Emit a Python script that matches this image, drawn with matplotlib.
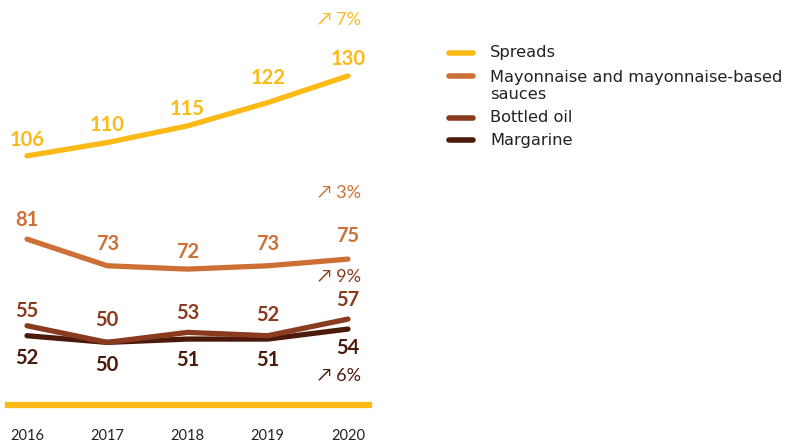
import matplotlib.pyplot as plt
from matplotlib.lines import Line2D

plt.rcParams['font.family'] = ['Lato', 'DejaVu Sans']

years = [2016, 2017, 2018, 2019, 2020]
spreads = [106, 110, 115, 122, 130]
mayo = [81, 73, 72, 73, 75]
oil = [55, 50, 53, 52, 57]
margarine = [52, 50, 51, 51, 54]

names = ['Spreads', 'Mayonnaise and mayonnaise-based\nsauces', 'Bottled oil', 'Margarine']
colors = ['#FDBA17', '#CD7036', '#8A3B1F', '#4B1A0B']
growth = ['7%', '3%', '9%', '6%']

fig = plt.figure(figsize=(7.92, 4.45), dpi=100)
ax = fig.add_axes([8 / 792, 40 / 445, 361 / 792, 405 / 445])

series = [spreads, mayo, oil, margarine]
for vals, c in zip(series[::-1], colors[::-1]):
    ax.plot(years, vals, color=c, lw=3.8, solid_capstyle='round', solid_joinstyle='round')

# label offsets from the line, in pixels (negative = below)
offs = [[16, 18, 17, 25, 17],
        [19, 22, 17, 22, 23],
        [15, 22, 19, 21, 19],
        [-22, -23, -21, -21, -19]]
for i in range(4):
    for j, (x, v) in enumerate(zip(years, series[i])):
        ax.annotate(str(v), (x, v), xytext=(0, offs[i][j] * 0.72), textcoords='offset points',
                    ha='center', va='center', fontsize=14.5, fontweight='bold', color=colors[i])

# growth labels
gy = [20, 193, 277, 376]
for g, c, y in zip(growth, colors, gy):
    fig.text(361 / 792, 1 - y / 445, '\u2197 ' + g, ha='right', va='center',
             fontsize=13, color=c)

ax.set_xlim(2015.763, 2020.262)
ax.set_ylim(31.2, 152.8)
for s in ['top', 'left', 'right']:
    ax.spines[s].set_visible(False)
ax.spines['bottom'].set_color('#FDBA17')
ax.spines['bottom'].set_linewidth(4.5)
ax.set_yticks([])
ax.set_xticks(years)
ax.set_xticklabels([str(y) for y in years], fontsize=10.5, color='#222222')
ax.tick_params(axis='x', length=0, pad=17)

# legend
ly = [53, 76, 118, 140]
ty = [53, 86, 118, 140]
for n, c, y, t in zip(names, colors, ly, ty):
    fig.add_artist(Line2D([449 / 792, 473 / 792], [1 - y / 445] * 2, color=c, lw=4,
                          solid_capstyle='round'))
    fig.text(490 / 792, 1 - t / 445, n, ha='left', va='center', fontsize=11.7,
             family='DejaVu Sans', color='#222222', linespacing=1.15)

fig.savefig('out.png', dpi=100)
